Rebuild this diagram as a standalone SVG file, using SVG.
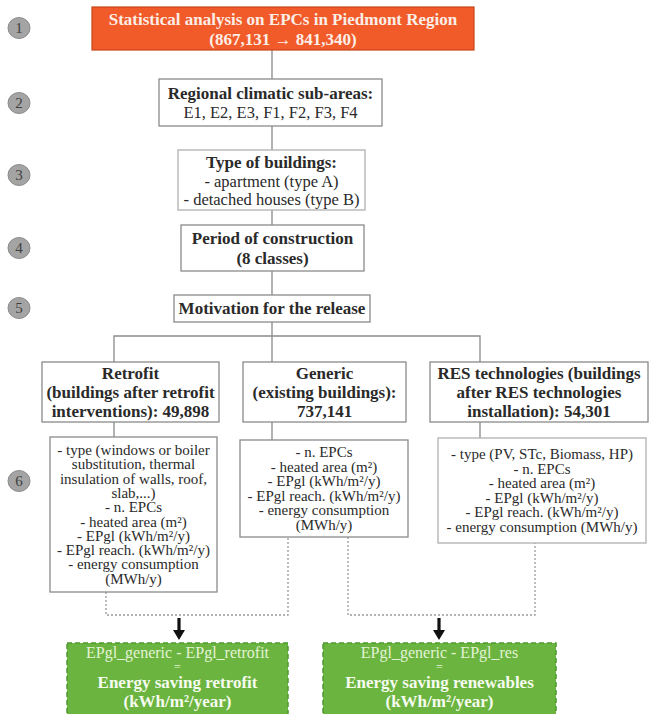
<svg xmlns="http://www.w3.org/2000/svg" width="651" height="714" viewBox="0 0 651 714">
<defs>
<style>
.box{fill:#ffffff;stroke:#8a8a8a;stroke-width:1.3}
.lbox{fill:#ffffff;stroke:#b0b0b0;stroke-width:1.3}
.t{font-family:"Liberation Serif","Times New Roman",serif;fill:#2a2a2a;text-anchor:middle}
.b{font-weight:bold;font-size:17px}
.r{font-size:16.5px}
.d{font-size:15px}
.num{font-family:"Liberation Serif",serif;font-size:15px;fill:#404040;text-anchor:middle}
.circ{fill:#a4a4a4;stroke:#8c8c8c;stroke-width:1}
.conn{fill:none;stroke:#8a8a8a;stroke-width:1.3}
.dot{fill:none;stroke:#999999;stroke-width:1.3;stroke-dasharray:2 2}
.arrow{fill:#111111}
.green{fill:#6bb43f;stroke:#4c9a2c;stroke-width:1.5;stroke-dasharray:5 3}
.gt{font-family:"Liberation Serif","Times New Roman",serif;text-anchor:middle}
</style>
</defs>
<rect width="651" height="714" fill="#ffffff"/>

<g id="steps">
<ellipse class="circ" cx="19" cy="28" rx="11" ry="10.5"/><text class="num" x="19" y="33">1</text>
<ellipse class="circ" cx="19" cy="103" rx="11" ry="10.5"/><text class="num" x="19" y="108">2</text>
<ellipse class="circ" cx="19" cy="175" rx="11" ry="10.5"/><text class="num" x="19" y="180">3</text>
<ellipse class="circ" cx="19" cy="248" rx="11" ry="10.5"/><text class="num" x="19" y="253">4</text>
<ellipse class="circ" cx="19" cy="308" rx="11" ry="10.5"/><text class="num" x="19" y="313">5</text>
<ellipse class="circ" cx="19" cy="481" rx="11" ry="10.5"/><text class="num" x="19" y="486">6</text>
</g>

<g id="connectors">
<path class="conn" d="M272,50 V79 M272,126 V150 M272,210 V225 M272,271 V295 M272,322 V362"/>
<path class="conn" d="M114,362 V336 H480 V362"/>
<path class="conn" d="M114,422 V437 M272,422 V440 M480,422 V438"/>
<path class="dot" d="M106,592 V615 H288 V537"/>
<path class="dot" d="M348,537 V615 H535 V543"/>
<path class="arrow" d="M177.4,618 H180.6 V630 H185 L179,640 L173,630 H177.4 Z"/>
<path class="arrow" d="M437.4,618 H440.6 V630 H445 L439,640 L433,630 H437.4 Z"/>
</g>

<g id="n1">
<rect x="92" y="7" width="382" height="43" fill="#f15a29" stroke="#c9451c" stroke-width="1.2"/>
<text class="t b" x="283" y="25" style="fill:#fbeee6">Statistical analysis on EPCs in Piedmont Region</text>
<text class="t b" x="283" y="45" style="fill:#fbeee6">(867,131 → 841,340)</text>
</g>

<g id="n2">
<rect class="box" x="159" y="79" width="223" height="47"/>
<text class="t b" x="270.5" y="99">Regional climatic sub-areas:</text>
<text class="t r" x="270.5" y="118">E1, E2, E3, F1, F2, F3, F4</text>
</g>

<g id="n3">
<rect class="lbox" x="178" y="150" width="187" height="60"/>
<text class="t b" x="271.5" y="168">Type of buildings:</text>
<text class="t r" x="271.5" y="187">- apartment (type A)</text>
<text class="t r" x="271.5" y="205">- detached houses (type B)</text>
</g>

<g id="n4">
<rect class="box" x="181" y="225" width="183" height="46"/>
<text class="t b" x="272.5" y="244">Period of construction</text>
<text class="t b" x="272.5" y="264">(8 classes)</text>
</g>

<g id="n5">
<rect class="box" x="174" y="295" width="196" height="27"/>
<text class="t b" x="272" y="314">Motivation for the release</text>
</g>

<g id="retrofit">
<rect class="box" x="42" y="362" width="177" height="60"/>
<text class="t b" x="130.5" y="379">Retrofit</text>
<text class="t b" x="130.5" y="398">(buildings after retrofit</text>
<text class="t b" x="130.5" y="417">interventions): 49,898</text>
</g>

<g id="generic">
<rect class="box" x="243" y="362" width="163" height="60"/>
<text class="t b" x="324.5" y="379">Generic</text>
<text class="t b" x="324.5" y="398">(existing buildings):</text>
<text class="t b" x="324.5" y="417">737,141</text>
</g>

<g id="res">
<rect class="box" x="430" y="362" width="218" height="60"/>
<text class="t b" x="539" y="379">RES technologies (buildings</text>
<text class="t b" x="539" y="398">after RES technologies</text>
<text class="t b" x="539" y="417">installation): 54,301</text>
</g>

<g id="retrofit-details">
<rect class="box" x="50" y="437" width="167" height="155"/>
<text class="t d" x="133.5" y="455">- type (windows or boiler</text>
<text class="t d" x="133.5" y="469.3">substitution, thermal</text>
<text class="t d" x="133.5" y="483.6">insulation of walls, roof,</text>
<text class="t d" x="133.5" y="497.9">slab,...)</text>
<text class="t d" x="133.5" y="512.2">- n. EPCs</text>
<text class="t d" x="133.5" y="526.5">- heated area (m²)</text>
<text class="t d" x="133.5" y="540.8">- EPgl (kWh/m²/y)</text>
<text class="t d" x="133.5" y="555.1">- EPgl reach. (kWh/m²/y)</text>
<text class="t d" x="133.5" y="569.4">- energy consumption</text>
<text class="t d" x="133.5" y="583.7">(MWh/y)</text>
</g>

<g id="generic-details">
<rect class="box" x="240" y="440" width="168" height="97"/>
<text class="t d" x="324" y="457.3">- n. EPCs</text>
<text class="t d" x="324" y="471.8">- heated area (m²)</text>
<text class="t d" x="324" y="486.3">- EPgl (kWh/m²/y)</text>
<text class="t d" x="324" y="500.8">- EPgl reach. (kWh/m²/y)</text>
<text class="t d" x="324" y="515.3">- energy consumption</text>
<text class="t d" x="324" y="529.8">(MWh/y)</text>
</g>

<g id="res-details">
<rect class="lbox" x="438" y="438" width="208" height="105"/>
<text class="t d" x="542" y="459.3">- type (PV, STc, Biomass, HP)</text>
<text class="t d" x="542" y="473.8">- n. EPCs</text>
<text class="t d" x="542" y="488.3">- heated area (m²)</text>
<text class="t d" x="542" y="502.8">- EPgl (kWh/m²/y)</text>
<text class="t d" x="542" y="517.3">- EPgl reach. (kWh/m²/y)</text>
<text class="t d" x="542" y="531.8">- energy consumption (MWh/y)</text>
</g>

<g id="saving-retrofit">
<rect class="green" x="67" y="643" width="221" height="74"/>
<text class="gt" x="177.5" y="657.5" font-size="16" fill="#e3f3d6">EPgl_generic - EPgl_retrofit</text>
<text class="gt" x="177.5" y="671" font-size="12" fill="#e3f3d6">=</text>
<text class="gt" x="177.5" y="688" font-size="17" font-weight="bold" fill="#f6fbf0">Energy saving retrofit</text>
<text class="gt" x="177.5" y="707" font-size="17" font-weight="bold" fill="#f6fbf0">(kWh/m²/year)</text>
</g>

<g id="saving-renewables">
<rect class="green" x="323" y="643" width="233" height="74"/>
<text class="gt" x="439.5" y="657.5" font-size="16" fill="#e3f3d6">EPgl_generic - EPgl_res</text>
<text class="gt" x="439.5" y="671" font-size="12" fill="#e3f3d6">=</text>
<text class="gt" x="439.5" y="688" font-size="17" font-weight="bold" fill="#f6fbf0">Energy saving renewables</text>
<text class="gt" x="439.5" y="707" font-size="17" font-weight="bold" fill="#f6fbf0">(kWh/m²/year)</text>
</g>
</svg>
